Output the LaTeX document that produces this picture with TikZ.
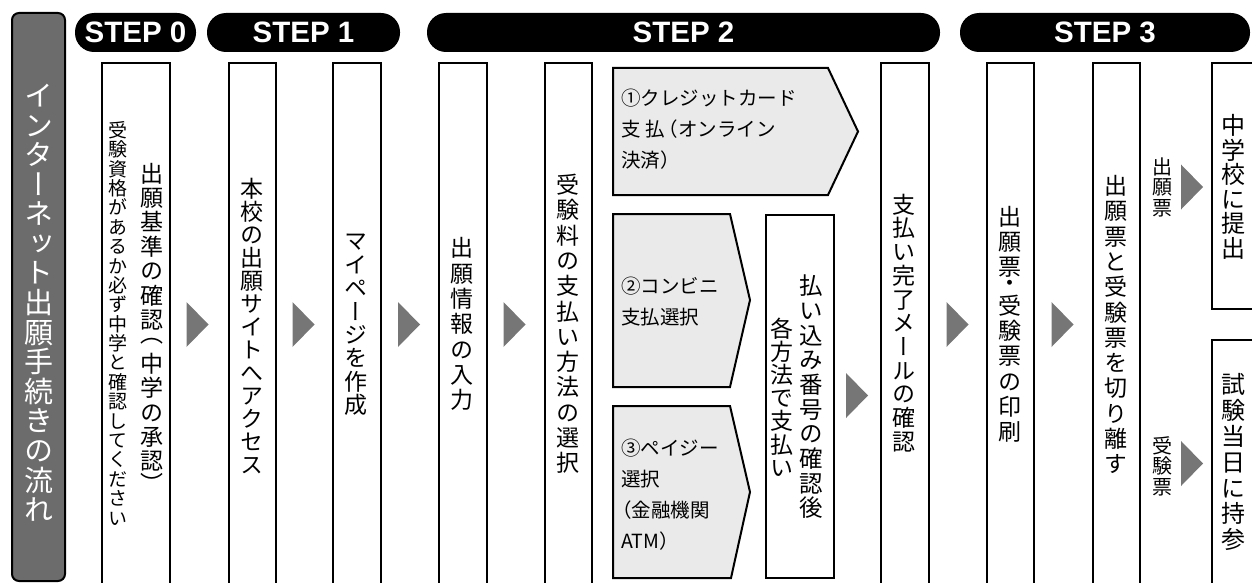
\documentclass[tikz,border=0pt]{standalone}
\usepackage{fontspec}
\setmainfont{Liberation Sans}
\newfontfamily\jp{Noto Sans CJK JP}
\newfontfamily\jpv[RawFeature={+vert}]{Noto Sans CJK JP}
\makeatletter
\def\vs@dot{・}
\def\vs@lp{（}
\def\vs@rp{）}
\newcommand\vs@cell[1]{\hbox to 1em{\hss\vbox to #1{\vss\hbox{\vs@c}\vss}\hss}}
\newcommand\vstack[2]{\vbox{\offinterlineskip\@tfor\vs@c:=#2\do{%
  \ifx\vs@c\vs@dot \vs@cell{0.62em}%
  \else\ifx\vs@c\vs@lp \vs@cell{0.85em}%
  \else\ifx\vs@c\vs@rp \vs@cell{0.85em}%
  \else
    \hbox to 1em{\hss\vs@c\hss\vrule width 0pt height \dimexpr(#1em+0.76em)/2\relax depth \dimexpr(#1em-0.76em)/2\relax}%
  \fi\fi\fi}}}
\makeatother
\definecolor{titlegray}{RGB}{108,108,108}
\definecolor{arrowgray}{RGB}{118,118,118}
\definecolor{paygray}{RGB}{234,234,234}
\tikzset{
  colbox/.style={draw=black, line width=2pt, fill=white, inner sep=0pt, anchor=north west},
  paybox/.style={draw=black, line width=2pt, fill=paygray},
  pill/.style={fill=black, rounded corners=19pt, inner sep=0pt, minimum height=39pt, text=white, font=\bfseries\fontsize{29.5}{30}\selectfont},
  vtext/.style={inner sep=0pt, anchor=center},
  htext/.style={inner sep=0pt, anchor=west, align=left, font=\jp\fontsize{19.5}{31}\selectfont},
  tri/.pic={\fill[arrowgray] (-11,-22.5) -- (11,0) -- (-11,22.5) -- cycle;},
}
\begin{document}
\begin{tikzpicture}[x=1pt,y=-1pt]
\useasboundingbox (0,0) rectangle (1252,583);
\clip (0,0) rectangle (1252,583);
% title
\node[draw=black, line width=2pt, fill=titlegray, rounded corners=7pt, minimum width=53pt, minimum height=568pt, inner sep=0pt] (title) at (38.5,297) {};
\node[vtext, text=white, font=\jpv\fontsize{29}{29}\selectfont] (titletext) at (38.5,302.5) {\vstack{1.02}{インターネット出願手続きの流れ}};
% step pills
\node[pill, minimum width=121pt] (s0) at (135.5,32.5) {STEP 0};
\node[pill, minimum width=193pt] (s1) at (303.5,32.5) {STEP 1};
\node[pill, minimum width=513pt] (s2) at (683.5,32.5) {STEP 2};
\node[pill, minimum width=290pt] (s3) at (1105,32.5) {STEP 3};
% column boxes
\node[colbox, minimum width=68pt, minimum height=540pt] (b0) at (101,62) {};
\node[colbox, minimum width=47pt, minimum height=540pt] (b1) at (228,62) {};
\node[colbox, minimum width=48pt, minimum height=540pt] (b2) at (332,62) {};
\node[colbox, minimum width=48pt, minimum height=540pt] (b3) at (438,62) {};
\node[colbox, minimum width=47pt, minimum height=540pt] (b4) at (544,62) {};
\node[colbox, minimum width=68pt, minimum height=363pt] (b6) at (765,214) {};
\node[colbox, minimum width=48pt, minimum height=540pt] (b7) at (880,62) {};
\node[colbox, minimum width=47pt, minimum height=540pt] (b8) at (986,62) {};
\node[colbox, minimum width=47pt, minimum height=540pt] (b9) at (1092,62) {};
\node[colbox, minimum width=60pt, minimum height=246pt] (b10) at (1211,62) {};
\node[colbox, minimum width=60pt, minimum height=270pt] (b11) at (1211,339) {};
% payment shapes
\draw[paybox] (613,68) -- (828,68) -- (858,131.5) -- (828,195) -- (613,195) -- cycle;
\draw[paybox] (613,214) -- (730,214) -- (750,300) -- (730,387) -- (613,387) -- cycle;
\draw[paybox] (613,406) -- (730,406) -- (750,492) -- (731,578) -- (613,578) -- cycle;
\node[htext] (p1) at (621,129) {①クレジットカード\\支 払\hspace{-0.3em}（オンライン\\決済）};
\node[htext] (p2) at (621,302) {②コンビニ\\支払選択};
\node[htext] (p3) at (621,495) {③ペイジー\\選択\\\hspace{-0.45em}（金融機関\\ATM）};
% vertical texts
\node[vtext, font=\jpv\fontsize{23}{23}\selectfont] (t0) at (152,327) {\vstack{1.06}{出願基準の確認（中学の承認）}};
\node[vtext, font=\jpv\fontsize{19}{19}\selectfont] (t0s) at (118,324) {\vstack{1.02}{受験資格があるか必ず中学と確認してください}};
\node[vtext, font=\jpv\fontsize{23}{23}\selectfont] (t1) at (251.5,327) {\vstack{1.0}{本校の出願サイトへアクセス}};
\node[vtext, font=\jpv\fontsize{23}{23}\selectfont] (t2) at (356,323) {\vstack{1.02}{マイページを作成}};
\node[vtext, font=\jpv\fontsize{23}{23}\selectfont] (t3) at (462,324) {\vstack{1.1}{出願情報の入力}};
\node[vtext, font=\jpv\fontsize{23}{23}\selectfont] (t4) at (567.5,324) {\vstack{1.1}{受験料の支払い方法の選択}};
\node[vtext, font=\jpv\fontsize{23.5}{23.5}\selectfont] (t6a) at (811,397) {\vstack{1.05}{払い込み番号の確認後}};
\node[vtext, font=\jpv\fontsize{23}{23}\selectfont] (t6b) at (782,398) {\vstack{1.01}{各方法で支払い}};
\node[vtext, font=\jpv\fontsize{23}{23}\selectfont] (t7) at (904,323) {\vstack{1.03}{支払い完了メールの確認}};
\node[vtext, font=\jpv\fontsize{23}{23}\selectfont] (t8) at (1009.5,324) {\vstack{1.09}{出願票・受験票の印刷}};
\node[vtext, font=\jpv\fontsize{23}{23}\selectfont] (t9) at (1115.5,325) {\vstack{1.1}{出願票と受験票を切り離す}};
\node[vtext, font=\jpv\fontsize{24}{24}\selectfont] (t10) at (1233,187) {\vstack{1.02}{中学校に提出}};
\node[vtext, font=\jpv\fontsize{24}{24}\selectfont] (t11) at (1233,462) {\vstack{1.08}{試験当日に持参}};
\node[vtext, font=\jpv\fontsize{20}{20}\selectfont] (l1) at (1162,187) {\vstack{1.03}{出願票}};
\node[vtext, font=\jpv\fontsize{20}{20}\selectfont] (l2) at (1162,466) {\vstack{1.03}{受験票}};
% arrows
\pic at (197.5,324.5) {tri};
\pic at (303.5,324.5) {tri};
\pic at (409,324.5) {tri};
\pic at (514.5,324.5) {tri};
\pic at (857,395.5) {tri};
\pic at (957.5,324.5) {tri};
\pic at (1062.5,324.5) {tri};
\pic at (1192,187) {tri};
\pic at (1192,463.5) {tri};
\end{tikzpicture}
\end{document}
